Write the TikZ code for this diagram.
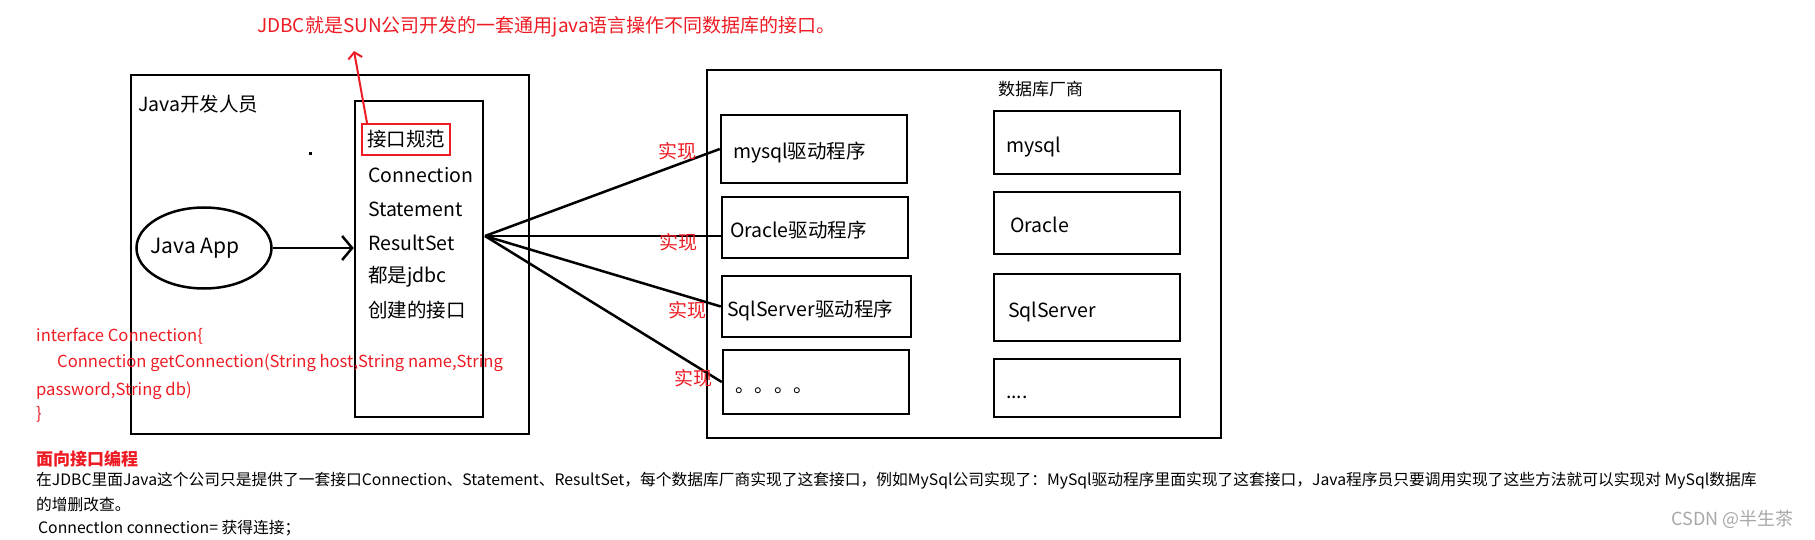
\documentclass[tikz,border=0pt]{standalone}
\usepackage{fontspec}
\setmainfont{Noto Sans CJK SC}
\usepackage{xcolor}
\usetikzlibrary{shapes.geometric, arrows.meta, positioning}
\definecolor{paintred}{HTML}{ED1C24}
\definecolor{markgray}{HTML}{A8A8A8}

\begin{document}
\begin{tikzpicture}[
    x=1pt, y=-1pt,
    box/.style={draw, line width=2.5pt, inner sep=0pt},
    dbbox/.style={draw, line width=2.5pt, inner ysep=0pt, inner xsep=12pt,
        text width=162pt, text height=22pt, text depth=2pt, align=left,
        font=\fontsize{19.5}{22}\selectfont},
    item/.style={anchor=west, inner sep=0pt, font=\fontsize{19.5}{22}\selectfont},
    code/.style={anchor=west, inner sep=0pt, text=paintred, font=\fontsize{16.6}{19}\selectfont},
    impl/.style={inner sep=0pt, text=paintred, font=\fontsize{19}{22}\selectfont},
    body/.style={anchor=west, inner sep=0pt, font=\fontsize{15.75}{19}\selectfont},
    link/.style={draw, line width=2.5pt}
]
\useasboundingbox (0,0) rectangle (1815,540);

% title and the red arrow
\node[item, text=paintred, font=\fontsize{19}{22}\selectfont] (title) at (257,27) {JDBC就是SUN公司开发的一套通用java语言操作不同数据库的接口。};
\coordinate (tip) at (354,51);

% Java developer side
\node[box, minimum width=398pt, minimum height=359pt] (dev) at (330,254.5) {};
\node[item] (devname) at (138,104) {Java开发人员};
\node[box, minimum width=128pt, minimum height=316pt] (iface) at (419,259) {};
\node[draw=paintred, line width=2pt, inner sep=0pt, minimum width=88pt, minimum height=31pt,
      font=\fontsize{19.5}{22}\selectfont] (spec) at (406,139.5) {接口规范};
\node[item] (conn) at (368,175) {Connection};
\node[item] (stmt) at (368,209) {Statement};
\node[item] (rs) at (368,243) {ResultSet};
\node[item] (jdbc) at (368,277) {都是jdbc};
\node[item] (made) at (368,310) {创建的接口};
\fill (309,152) rectangle (312,155);
\node[ellipse, draw, line width=2.5pt, inner sep=0pt, minimum width=135pt, minimum height=81pt,
      font=\fontsize{21}{25}\selectfont] (app) at (204,248) {\makebox[0pt]{Java App\hspace{18pt}}};

\draw[line width=2.5pt, -{Straight Barb[length=10pt, width=24pt]}] (app.east) -- (app.east -| iface.west);
\draw[paintred, line width=2pt, -{Straight Barb[length=6pt, width=14pt]}] ([xshift=6pt]spec.north west) -- (tip);

% interface code
\node[code] (code1) at (36,336) {interface Connection\{};
\node[code] (code2) at (57,363) {Connection getConnection(String host,String name,String};
\node[code] (code3) at (36,391) {password,String db)};
\node[code] (code4) at (36,414) {\}};

% database vendors
\node[box, minimum width=514pt, minimum height=368pt] (vendor) at (964,254) {};
\node[item, font=\fontsize{17}{20}\selectfont] (vendorname) at (998,89) {数据库厂商};

\node[dbbox, minimum height=68pt] (mysqld) at (814,149) {mysql驱动程序};
\node[dbbox, minimum height=61pt, inner xsep=8pt, text width=170pt] (oracled) at (815,227.5) {Oracle驱动程序};
\node[dbbox, minimum height=61pt, inner xsep=5pt, text width=179pt] (sqld) at (816.5,306.5) {SqlServer驱动程序};
\node[dbbox, minimum height=64pt] (mored) at (816,382) {。。。。};

\node[dbbox, minimum height=63pt] (mysql) at (1087,142.5) {mysql};
\node[dbbox, minimum height=62pt, inner xsep=16pt, text width=154pt] (oracle) at (1087,223) {Oracle};
\node[dbbox, minimum height=67pt, inner xsep=14pt, text width=158pt] (sqlserver) at (1087,307.5) {SqlServer};
\node[dbbox, minimum height=58pt] (more) at (1087,388) {....};

% implementations
\coordinate (hub) at (485,236);
\draw[link] (hub) -- (mysqld.west);
\draw[link] (hub) -- (hub -| oracled.west);
\draw[link] (hub) -- (sqld.west);
\draw[link] (hub) -- (mored.west);
\node[impl] (impl1) at (677,151) {实现};
\node[impl] (impl2) at (678,242) {实现};
\node[impl] (impl3) at (687,310) {实现};
\node[impl] (impl4) at (693,378) {实现};

% notes below
\node[body, text=paintred, font=\fontsize{17}{20}\selectfont\bfseries] (head) at (36,459) {面向接口编程};
\node[body] (note1) at (36,481) {在JDBC里面Java这个公司只是提供了一套接口Connection、Statement、ResultSet，每个数据库厂商实现了这套接口，例如MySql公司实现了：MySql驱动程序里面实现了这套接口，Java程序员只要调用实现了这些方法就可以实现对 MySql数据库};
\node[body] (note2) at (36,505) {的增删改查。};
\node[body] (note3) at (38,528) {ConnectIon connection= 获得连接；};
\node[anchor=east, inner sep=0pt, text=markgray, font=\fontsize{18}{21}\selectfont] (mark) at (1794,519) {CSDN @半生茶};
\end{tikzpicture}
\end{document}
